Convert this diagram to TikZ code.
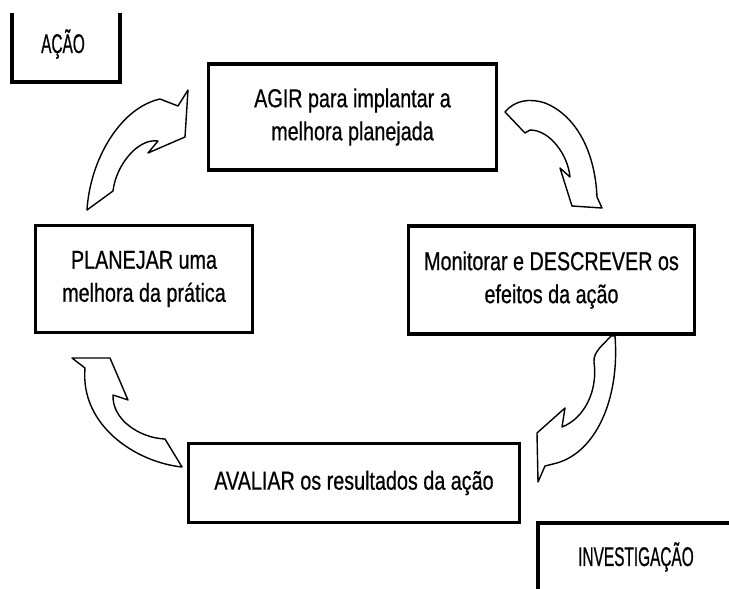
\documentclass[tikz,border=0pt]{standalone}
\usepackage{fontspec}
\setmainfont{Liberation Sans}[FakeStretch=0.76,FakeBold=0.6]
\newfontfamily\rotulofont{Liberation Sans}[FakeStretch=0.57,FakeBold=0.6]

\tikzset{
  etapa/.style={draw, line width=3.5pt, inner sep=0pt, align=center, font=\fontsize{26}{33}\selectfont},
  seta/.style={draw, line width=1.4pt, line join=round, fill=white},
  moldura/.style={line width=4.5pt},
  rotulo/.style={font=\rotulofont\fontsize{27}{30}\selectfont}
}

\begin{document}
\begin{tikzpicture}[x=1pt,y=-1pt]
\useasboundingbox (0,0) rectangle (729,589);
\node[etapa,minimum width=288pt,minimum height=106pt] (agir) at (352.5,117) {AGIR para implantar a\\melhora planejada};
\node[etapa,minimum width=217pt,minimum height=107pt] (planejar) at (144,279) {PLANEJAR uma\\melhora da prática};
\node[etapa,minimum width=286pt,minimum height=108pt] (monitorar) at (551.5,280) {Monitorar e DESCREVER os\\efeitos da ação};
\node[etapa,minimum width=331pt,minimum height=79pt] (avaliar) at (354,483) {AVALIAR os resultados da ação};

\draw[moldura] (12,13) -- (12,82) -- (120,82) -- (120,13);
\node[rotulo] (acao) at (63,44) {AÇÃO};
\draw[moldura] (538,592) -- (538,523) -- (732,523);
\node[rotulo] (investigacao) at (636,557) {INVESTIGAÇÃO};

\draw[seta] (87,210) .. controls (90,160) and (120,108) .. (160,99) -- (178,106) -- (188,90)
  -- (185,137) -- (148,153) -- (158,141) .. controls (138,138) and (116,165) .. (113,191) -- cycle;
\draw[seta] (505,112) .. controls (515,100) and (530,98) .. (545,103) .. controls (575,115) and (595,150) .. (597,197)
  -- (602,208) -- (572,206) -- (560,168) -- (570,177) .. controls (568,155) and (550,130) .. (530,130) -- (525,133) -- cycle;
\draw[seta] (615,336) .. controls (620,400) and (595,455) .. (553,464) -- (545,466) -- (538,482) -- (537,433)
  -- (565,408) -- (562,427) .. controls (585,418) and (598,390) .. (594,362) .. controls (593,352) and (603,345) .. (611,336) -- cycle;
\draw[seta] (182,467) .. controls (135,462) and (80,425) .. (85,368) -- (72,358) -- (110,358) -- (128,400)
  -- (113,395) .. controls (112,420) and (140,438) .. (165,439) -- cycle;
\end{tikzpicture}
\end{document}
